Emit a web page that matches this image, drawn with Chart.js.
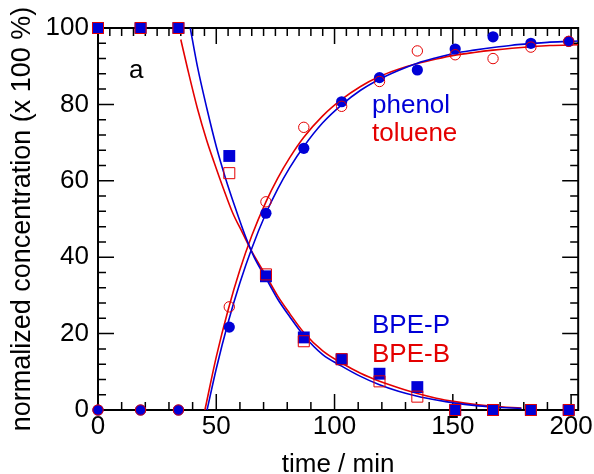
<!DOCTYPE html>
<html>
<head>
<meta charset="utf-8">
<script src="https://cdn.jsdelivr.net/npm/chart.js@4"></script>
<style>
  html, body { margin: 0; padding: 0; background: #fff; }
  #chart { display: block; }
</style>
</head>
<body>
<canvas id="chart" width="594" height="474"></canvas>
<script>
// measured points
const times = [0, 18, 34, 55.5, 71, 87, 103, 119, 135, 151, 167, 183, 199];
const bpeP = [100, 100, 100, 66.5, 35, 19, 13.3, 9.5, 6, 0, 0, 0, 0];
const bpeB = [100, 100, 100, 62, 35.5, 18, 13.3, 7.5, 3.5, 0, 0, 0, 0];
const phenol = [0, 0, 0, 21.7, 51.5, 68.5, 80.7, 87, 89, 94.5, 97.7, 96, 96.5];
const toluene = [0, 0, 0, 27, 54.5, 74, 79.5, 86, 94, 93, 92, 95, 96.5];

// fitted curves
const bpePFitT = [39, 42, 46, 50, 54, 58, 62, 66, 71, 76, 81, 87, 95, 103, 111, 119, 127, 135, 143, 151, 159, 167, 179];
const bpePFitY = [100, 90, 79, 69, 60.5, 53, 46, 40, 34.5, 29, 24.5, 19.5, 14.5, 11.5, 8.8, 6.6, 4.9, 3.6, 2.6, 1.8, 1.2, 0.8, 0.4];
const bpeBFitT = [35, 38, 42, 46, 49, 53, 57, 61, 65, 71, 76, 81, 87, 95, 103, 111, 119, 127, 135, 143, 151, 159, 167, 179];
const bpeBFitY = [97, 89, 79, 70.5, 65, 58, 51.5, 46.5, 41.5, 35.2, 29.8, 25.3, 20.3, 15.5, 12.3, 9.6, 7.5, 5.8, 4.3, 3.1, 2.2, 1.5, 1.0, 0.5];
const phenolFitT = [46.1, 50, 55, 60, 65, 71, 76, 81, 87, 95, 103, 111, 119, 127, 135, 143, 151, 159, 167, 175, 183, 191, 203];
const phenolFitY = [0, 10.8, 22.9, 33.3, 42.3, 51.5, 57.9, 63.4, 69, 75.2, 79.9, 83.7, 86.6, 88.9, 90.8, 92.2, 93.4, 94.2, 94.9, 95.5, 95.9, 96.3, 96.6];
const tolueneFitT = [45.2, 50, 55, 60, 65, 71, 76, 81, 87, 95, 103, 111, 119, 127, 135, 143, 151, 159, 167, 175, 183, 191, 203];
const tolueneFitY = [0, 13.9, 26.2, 36.7, 45.6, 54.5, 60.7, 66, 71.4, 77, 81.3, 84.7, 87.3, 89.2, 90.7, 91.9, 92.9, 93.6, 94.2, 94.7, 95.1, 95.4, 95.6];

const xTicks = [0, 50, 100, 150, 200];
const yTicks = [0, 20, 40, 60, 80, 100];

const BLUE = 'rgb(0,0,215)';
const RED = 'rgb(228,0,0)';
const FONT = "'Liberation Sans', Arial, sans-serif";

const pts = (xs, ys) => xs.map((x, i) => ({ x: x, y: ys[i] }));

// frame with inward ticks on all four sides
const framePlugin = {
    id: 'frame',
    beforeDatasetsDraw(chart) {
        const { ctx, chartArea: a, scales: { x, y } } = chart;
        ctx.save();
        ctx.strokeStyle = '#000';
        ctx.lineWidth = 1.5;
        ctx.beginPath();
        for (let v = 0; v <= 200; v += 5) {
            const px = x.getPixelForValue(v);
            const top = v % 50 === 0 ? 16 : 8;
            ctx.moveTo(px, a.top);
            ctx.lineTo(px, a.top + top);
            if (v % 10 === 0) {
                const bot = v % 50 === 0 ? 16 : 8;
                ctx.moveTo(px, a.bottom);
                ctx.lineTo(px, a.bottom - bot);
            }
        }
        for (let v = 0; v <= 100; v += 4) {
            const py = y.getPixelForValue(v);
            const len = v % 20 === 0 ? 16 : 8;
            ctx.moveTo(a.left, py);
            ctx.lineTo(a.left + len, py);
            ctx.moveTo(a.right, py);
            ctx.lineTo(a.right - len, py);
        }
        ctx.stroke();
        ctx.lineWidth = 2;
        ctx.strokeRect(a.left, a.top, a.right - a.left, a.bottom - a.top);
        ctx.restore();
    },
    afterDraw(chart) {
        const ctx = chart.ctx;
        ctx.save();
        ctx.font = '26px ' + FONT;
        ctx.textAlign = 'left';
        ctx.textBaseline = 'alphabetic';
        ctx.fillStyle = '#000';
        ctx.fillText('a', 129, 78);
        ctx.fillStyle = BLUE;
        ctx.fillText('phenol', 372, 113);
        ctx.fillText('BPE-P', 372, 333);
        ctx.fillStyle = RED;
        ctx.fillText('toluene', 372, 141);
        ctx.fillText('BPE-B', 372, 362);
        ctx.restore();
    }
};

const lineDs = (label, xs, ys, color) => ({
    label, data: pts(xs, ys), showLine: true, borderColor: color, borderWidth: 1.6,
    pointRadius: 0, cubicInterpolationMode: 'monotone', order: 10
});

new Chart(document.getElementById('chart'), {
    type: 'scatter',
    data: {
        datasets: [
            lineDs('BPE-P fit', bpePFitT, bpePFitY, BLUE),
            lineDs('BPE-B fit', bpeBFitT, bpeBFitY, RED),
            lineDs('phenol fit', phenolFitT, phenolFitY, BLUE),
            lineDs('toluene fit', tolueneFitT, tolueneFitY, RED),
            { label: 'BPE-P', data: pts(times, bpeP), pointStyle: 'rect', pointRadius: 8.4,
              backgroundColor: BLUE, borderColor: BLUE, borderWidth: 0, clip: false, order: 5 },
            { label: 'phenol', data: pts(times, phenol), pointStyle: 'circle', pointRadius: 5.6,
              backgroundColor: BLUE, borderColor: BLUE, borderWidth: 0, clip: false, order: 5 },
            { label: 'BPE-B', data: pts(times, bpeB), pointStyle: 'rect', pointRadius: 7.8,
              backgroundColor: 'rgba(0,0,0,0)', borderColor: RED, borderWidth: 1, clip: false, order: 1 },
            { label: 'toluene', data: pts(times, toluene), pointStyle: 'circle', pointRadius: 5.2,
              backgroundColor: 'rgba(0,0,0,0)', borderColor: RED, borderWidth: 1, clip: false, order: 1 }
        ]
    },
    options: {
        responsive: false,
        animation: false,
        devicePixelRatio: 1,
        layout: { padding: { left: 0, top: 28, right: 15, bottom: 0 } },
        plugins: { legend: { display: false }, tooltip: { enabled: false } },
        scales: {
            x: {
                type: 'linear', min: 0, max: 203,
                afterBuildTicks: s => { s.ticks = xTicks.map(v => ({ value: v })); },
                afterFit: s => { s.height = 64; },
                grid: { display: false, drawTicks: false },
                border: { display: false },
                ticks: { color: '#000', padding: 1, maxRotation: 0, font: { family: FONT, size: 26 } },
                title: { display: true, text: 'time / min', color: '#000',
                         font: { family: FONT, size: 26, lineHeight: 1 }, padding: { top: 0, bottom: -4 } }
            },
            y: {
                type: 'linear', min: 0, max: 100,
                afterBuildTicks: s => { s.ticks = yTicks.map(v => ({ value: v })); },
                afterFit: s => { s.width = 98; },
                grid: { display: false, drawTicks: false },
                border: { display: false },
                ticks: { color: '#000', padding: 9, font: { family: FONT, size: 26 } },
                title: { display: true, text: 'normalized concentration (x 100 %)', color: '#000',
                         font: { family: FONT, size: 27, lineHeight: 1 }, padding: { top: 9, bottom: 0 } }
            }
        }
    },
    plugins: [framePlugin]
});
</script>
</body>
</html>
